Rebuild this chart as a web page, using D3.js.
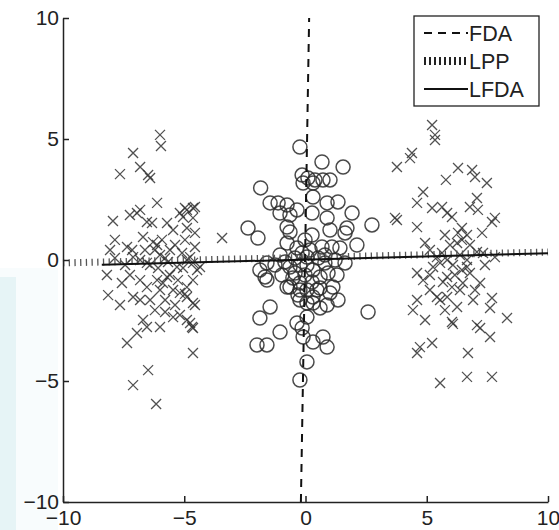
<!DOCTYPE html>
<html><head><meta charset="utf-8">
<script src="https://cdn.jsdelivr.net/npm/d3@7"></script>
<style>html,body{margin:0;padding:0;background:#fff;}svg{display:block;}</style>
</head><body>
<script>
// tick values
const xTicks = [-10, -5, 0, 5, 10];
const yTicks = [-10, -5, 0, 5, 10];
// legend labels
const legendLabels = ["FDA", "LPP", "LFDA"];
// projection lines (endpoints in data units)
const fdaLine = [[-0.19, -10], [0.15, 10]];
const lppLine = [[-10, -0.12], [10, 0.33]];
const lfdaLine = [[-8.4, -0.2], [10, 0.28]];
// class 1, left cluster (x markers)
const crossLeft = [
[-6.0,5.17],[-5.96,4.71],[-7.11,4.42],[-6.82,3.84],[-6.49,3.51],[-7.65,3.55],[-6.41,3.39],
[-6.12,2.36],[-7.94,1.61],[-7.24,1.86],[-6.95,1.94],[-6.82,2.07],[-6.54,1.57],[-6.33,1.53],
[-7.86,0.83],[-7.36,0.54],[-7.15,0.41],[-6.70,0.95],[-6.29,0.74],[-6.12,0.62],[-5.71,1.53],
[-5.46,1.24],[-5.18,1.94],[-4.89,2.07],[-4.64,2.15],[-8.19,-0.62],[-7.57,-0.95],[-8.14,-1.45],
[-7.65,-1.86],[-7.11,-1.53],[-6.82,-1.65],[-6.41,-1.65],[-6.54,-1.12],[-6.12,-0.83],[-5.88,-0.95],
[-5.71,-0.70],[-6.70,-2.48],[-6.54,-2.77],[-6.95,-3.02],[-7.36,-3.43],[-6.0,-2.77],[-5.46,-2.36],
[-4.76,-2.60],[-4.68,-2.77],[-4.64,-3.84],[-6.49,-4.55],[-7.11,-5.17],[-6.16,-5.95],[-5.46,-1.24],
[-5.18,-1.36],[-4.89,-1.53],[-4.64,-1.78],[-5.30,-0.29],[-4.89,0.0],[-4.64,-0.12],[-4.47,-0.41],
[-7.11,0.12],[-6.82,0.0],[-6.54,-0.12],[-4.97,2.15],[-4.56,2.19],[-5.05,1.78],[-4.64,1.74],
[-4.89,1.32],[-4.56,1.12],[-4.97,0.83],[-4.56,0.54],[-5.09,0.29],[-4.76,0.12],[-4.35,-0.29],
[-5.05,-0.33],[-4.64,-0.83],[-4.89,-1.12],[-4.97,-1.40],[-4.56,-1.86],[-4.89,-2.48],[-4.64,-2.81],
[-3.44,0.91],[-6.21,0.41],[-6.0,0.21],[-5.92,0.83],[-5.79,0.08],[-6.41,-0.21],[-6.08,-0.33],
[-5.59,0.41],[-5.38,0.62],[-5.67,-0.08],[-6.62,0.41],[-5.59,-0.62],[-5.26,-0.83],[-6.0,-1.24],
[-5.79,-1.65],[-6.21,-2.07],[-5.79,-2.15],[-5.38,-1.86],[-5.18,-2.27],[-6.82,-0.83],[-7.24,-0.62],
[-7.44,-0.21],[-7.86,0.08],[-8.06,0.41]
];
// class 1, right cluster (x markers)
const crossRight = [
[5.22,5.58],[5.34,5.17],[5.34,4.96],[4.39,4.42],[4.31,4.21],[3.77,3.84],[6.29,3.80],[6.87,3.72],
[6.99,3.43],[5.79,3.31],[7.48,3.18],[4.85,2.81],[4.60,2.36],[5.22,2.15],[5.63,2.19],[5.84,1.94],
[6.04,1.78],[6.78,2.19],[7.07,2.56],[7.11,2.07],[3.69,1.74],[3.77,1.65],[4.60,1.36],[7.81,1.74],
[7.69,1.57],[6.45,1.32],[6.29,1.12],[6.66,1.03],[6.45,0.83],[6.25,0.70],[7.28,1.12],[4.93,0.70],
[5.13,0.41],[5.63,0.29],[5.42,0.12],[5.84,0.0],[5.55,-0.12],[5.26,-0.29],[7.07,0.33],[7.32,0.29],
[7.81,0.12],[6.37,0.21],[6.66,0.0],[6.08,-0.21],[4.60,-0.54],[4.85,-0.83],[5.13,-0.62],[5.84,-0.70],
[5.67,-0.91],[6.04,-1.12],[6.49,-0.95],[6.78,-0.54],[7.20,-0.95],[6.45,-0.41],[6.66,-0.29],
[5.42,-1.53],[5.55,-1.65],[5.84,-1.53],[6.25,-1.94],[6.37,-1.24],[6.91,-1.65],[4.60,-1.65],
[4.43,-2.07],[7.69,-1.57],[7.61,-1.98],[6.04,-2.56],[6.08,-2.64],[7.07,-2.69],[7.20,-2.81],
[7.61,-3.18],[8.31,-2.40],[4.72,-3.60],[4.60,-3.84],[5.22,-3.43],[6.70,-3.84],[5.55,-5.08],
[6.66,-4.83],[7.69,-4.83],[5.96,0.62],[5.75,1.03],[6.78,0.62],[6.16,-0.62],[6.99,-1.24],
[5.13,-1.24],[5.75,-2.07],[7.40,-0.21],[4.93,-2.48]
];
// class 2, centre cluster (circles)
const circlePts = [
[-0.23,4.67],[0.68,4.05],[1.55,3.84],[-0.14,3.51],[0.10,3.39],[0.39,3.31],[0.72,3.31],[1.01,3.31],
[-0.10,3.18],[0.31,3.18],[-1.85,2.98],[0.31,2.60],[-1.46,2.36],[-1.13,2.36],[-1.05,1.94],[-0.64,1.86],
[-0.76,2.27],[-0.35,2.07],[0.89,2.36],[1.34,2.40],[0.27,1.94],[1.92,1.94],[0.89,1.74],[-2.37,1.32],
[-1.96,0.91],[-0.76,1.36],[-0.64,1.16],[1.01,1.24],[1.71,1.32],[1.63,1.12],[2.74,1.45],[0.27,1.03],
[-0.76,0.70],[-0.35,0.50],[-0.14,0.29],[0.06,0.12],[1.09,0.54],[0.68,0.54],[2.12,0.62],[-1.05,0.21],
[-1.59,-0.12],[-1.88,-0.41],[-1.67,-0.70],[-0.64,-0.29],[-0.43,-0.54],[0.06,-0.21],[0.31,-0.41],
[0.60,-0.70],[0.93,-0.54],[1.30,-0.62],[1.63,-0.12],[-0.64,-1.12],[-0.23,-1.24],[0.47,-1.24],
[1.01,-1.36],[-1.59,-0.83],[-0.76,-1.12],[-0.23,-0.95],[0.06,-1.24],[0.31,-1.53],[0.60,-1.16],
[1.13,-1.12],[-0.23,-1.65],[0.06,-1.78],[0.31,-1.78],[0.60,-1.98],[0.89,-1.86],[1.34,-1.65],
[2.58,-2.15],[-1.46,-1.94],[-1.88,-2.40],[0.06,-2.36],[-1.05,-2.98],[-0.35,-2.60],[-0.14,-2.81],
[-0.10,-3.18],[0.31,-3.39],[0.72,-3.18],[0.89,-3.60],[-2.0,-3.51],[-1.59,-3.51],[0.06,-4.21],
[-0.23,-4.96],[-0.02,0.83],[0.19,0.41],[-0.23,-0.21],[-0.43,0.08],[0.52,0.08],[0.80,-0.12],
[-0.02,-0.62],[0.27,-0.91],[-0.31,-1.45],[-0.52,-0.74],[-0.97,-0.62],[-1.26,-0.21],[-0.85,-0.08],
[0.80,0.21],[1.22,0.0],[1.42,0.50]
];

const W = 559, H = 530;
const svg = d3.select("body").append("svg").attr("width", W).attr("height", H)
  .style("font-family", "'Liberation Sans', Arial, sans-serif");

// faint background tint at the left edge
svg.append("rect").attr("x", 0).attr("y", 268).attr("width", 58).attr("height", H - 268).attr("fill", "#f8fcfd");
svg.append("rect").attr("x", 0).attr("y", 277).attr("width", 16).attr("height", H - 277).attr("fill", "#e6f4f6");

const x = d3.scaleLinear().domain([-10, 10]).range([63, 548]);
const y = d3.scaleLinear().domain([-10, 10]).range([502, 18]);

const ink = "#222";

// markers
const g = svg.append("g");
const cs = 5;
g.selectAll("path.cross").data(crossLeft.concat(crossRight)).join("path")
  .attr("class", "cross")
  .attr("d", d => { const px = x(d[0]), py = y(d[1]);
    return `M${px-cs},${py-cs}L${px+cs},${py+cs}M${px-cs},${py+cs}L${px+cs},${py-cs}`; })
  .attr("stroke", "#333").attr("stroke-width", 1.3).attr("fill", "none").attr("stroke-opacity", 0.85);
g.selectAll("circle").data(circlePts).join("circle")
  .attr("cx", d => x(d[0])).attr("cy", d => y(d[1])).attr("r", 7)
  .attr("fill", "none").attr("stroke", "#2a2a2a").attr("stroke-width", 1.5).attr("stroke-opacity", 0.85);

// lines
const line = d3.line().x(d => x(d[0])).y(d => y(d[1]));
svg.append("path").attr("d", line(lppLine)).attr("stroke", "#555").attr("stroke-width", 7)
  .attr("stroke-dasharray", "1.3,4.4").attr("fill", "none");
svg.append("path").attr("d", line(lfdaLine)).attr("stroke", "#111").attr("stroke-width", 2).attr("fill", "none");
svg.append("path").attr("d", line(fdaLine)).attr("stroke", "#111").attr("stroke-width", 2)
  .attr("stroke-dasharray", "8,7").attr("fill", "none");

// axes
const xAxis = d3.axisBottom(x).tickValues(xTicks).tickSizeInner(-6).tickSizeOuter(0).tickPadding(8);
const yAxis = d3.axisLeft(y).tickValues(yTicks).tickSizeInner(-6).tickSizeOuter(0).tickPadding(4);
const gx = svg.append("g").attr("transform", "translate(0,502)").call(xAxis);
const gy = svg.append("g").attr("transform", "translate(63,0)").call(yAxis);
[gx, gy].forEach(a => {
  a.select(".domain").attr("stroke", ink).attr("stroke-width", 1.5);
  a.selectAll(".tick line").attr("stroke", ink).attr("stroke-width", 1.5);
  a.selectAll(".tick text").attr("fill", ink).style("font-size", "21px")
    .style("font-family", "'Liberation Sans', Arial, sans-serif");
});

// legend
const lg = svg.append("g");
lg.append("rect").attr("x", 414).attr("y", 16).attr("width", 125).attr("height", 90)
  .attr("fill", "#fff").attr("stroke", ink).attr("stroke-width", 1.3);
const rows = [33, 61, 89];
const styles = [
  {w: 2, dash: "8,6", c: "#111"},
  {w: 8, dash: "2,3", c: "#222"},
  {w: 2, dash: null, c: "#111"}
];
legendLabels.forEach((lab, i) => {
  const ln = lg.append("line").attr("x1", 424).attr("x2", 468).attr("y1", rows[i]).attr("y2", rows[i])
    .attr("stroke", styles[i].c).attr("stroke-width", styles[i].w);
  if (styles[i].dash) ln.attr("stroke-dasharray", styles[i].dash);
  lg.append("text").attr("x", 469).attr("y", rows[i]).attr("dy", "0.36em")
    .attr("fill", ink).style("font-size", "21.5px").text(lab);
});
</script>
</body></html>
